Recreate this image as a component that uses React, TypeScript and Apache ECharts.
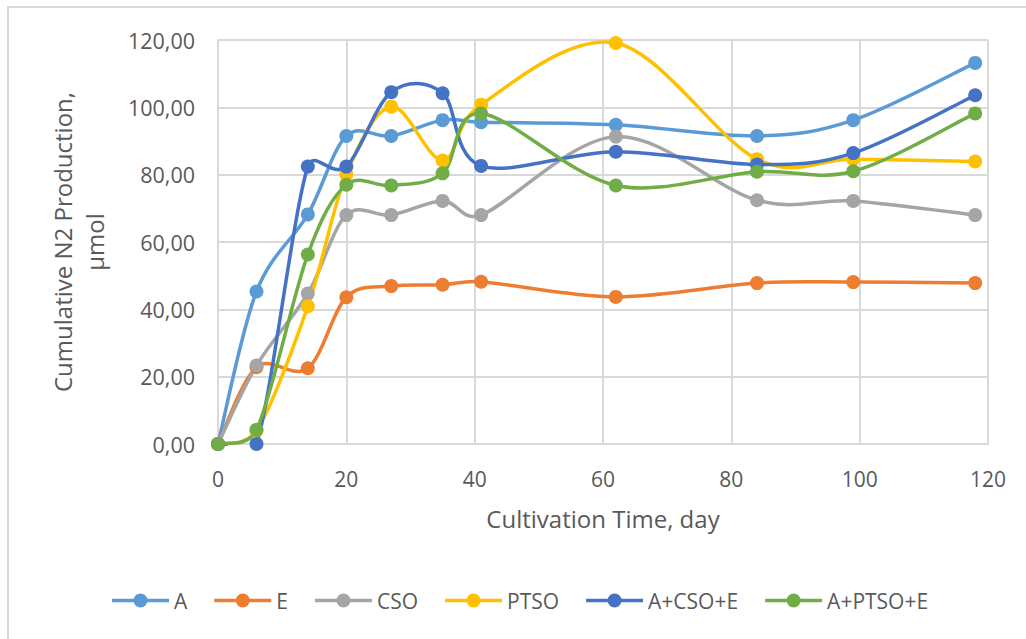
import React, { useEffect, useRef } from "react";
import * as echarts from "echarts";

// Sampling days (x axis)
const days = [0, 6, 14, 20, 27, 35, 41, 62, 84, 99, 118];

// Cumulative N2 production, µmol, per treatment
const seriesA = [0, 45.3, 68.2, 91.5, 91.5, 96.2, 95.6, 94.8, 91.5, 96.2, 113.2];
const seriesE = [0, 22.8, 22.5, 43.6, 46.9, 47.3, 48.2, 43.7, 47.8, 48.1, 47.8];
const seriesCSO = [0, 23.3, 44.7, 68.0, 68.0, 72.2, 68.0, 91.3, 72.4, 72.2, 68.0];
const seriesPTSO = [0, 4.0, 40.9, 80.1, 100.2, 84.2, 100.8, 119.1, 84.6, 84.6, 83.9];
const seriesACSOE = [0, 0, 82.4, 82.4, 104.5, 104.2, 82.6, 86.8, 83.0, 86.4, 103.6];
const seriesAPTSOE = [0, 4.2, 56.3, 77.0, 76.8, 80.4, 98.2, 76.8, 80.9, 81.0, 98.2];

const seriesNames = ["A", "E", "CSO", "PTSO", "A+CSO+E", "A+PTSO+E"];
const seriesValues = [seriesA, seriesE, seriesCSO, seriesPTSO, seriesACSOE, seriesAPTSOE];
const seriesColors = ["#5B9BD5", "#ED7D31", "#A5A5A5", "#FFC000", "#4472C4", "#70AD47"];

const FONT = "'Open Sans', 'Noto Sans', sans-serif";
const TEXT_COLOR = "#595959";
const GRID_COLOR = "#D9D9D9";
const LINE_WIDTH = 3.5;
const MARKER_R = 7;

// Legend glyph: a horizontal stroke with a dot in the middle (57 x 14 box)
const LEGEND_ICON =
  "path://M0,5.25 H57 V8.75 H0 Z M21.5,7 A7,7 0 1,1 35.5,7 A7,7 0 1,1 21.5,7 Z";

const dist = (a: number[], b: number[]) => Math.hypot(b[0] - a[0], b[1] - a[1]);

// Smoothed line through the points in pixel space: cubic Bezier segments whose
// control points follow the neighbour chord (1/6 of it), but never reach further
// than half of the segment itself.
function splinePath(pts: number[][]): string {
  let d = `M${pts[0][0]},${pts[0][1]}`;
  const n = pts.length;
  for (let k = 0; k < n - 1; k++) {
    const p0 = pts[Math.max(k - 1, 0)];
    const p1 = pts[k];
    const p2 = pts[k + 1];
    const p3 = pts[Math.min(k + 2, n - 1)];
    const d12 = dist(p1, p2);
    const d02 = dist(p0, p2);
    const d13 = dist(p1, p3);
    const f0 = d02 > 0 ? Math.min(1 / 6, d12 / 2 / d02) : 0;
    const f1 = d13 > 0 ? Math.min(1 / 6, d12 / 2 / d13) : 0;
    const c1x = p1[0] + (p2[0] - p0[0]) * f0;
    const c1y = p1[1] + (p2[1] - p0[1]) * f0;
    const c2x = p2[0] - (p3[0] - p1[0]) * f1;
    const c2y = p2[1] - (p3[1] - p1[1]) * f1;
    d += ` C${c1x},${c1y} ${c2x},${c2y} ${p2[0]},${p2[1]}`;
  }
  return d;
}

function makeRenderItem(values: number[], color: string) {
  return (params: any, api: any) => {
    const i = params.dataIndex;
    const pts = days.map((d, k) => api.coord([d, values[k]]));
    const [cx, cy] = pts[i];
    const marker = {
      type: "circle",
      shape: { cx, cy, r: MARKER_R },
      style: { fill: color },
      z2: 2,
    };
    if (i !== 0) return marker;
    const cs = params.coordSys;
    return {
      type: "group",
      children: [
        {
          type: "path",
          shape: { pathData: splinePath(pts) },
          style: { stroke: color, lineWidth: LINE_WIDTH, fill: "none", lineJoin: "round" },
          clipPath: {
            type: "rect",
            shape: { x: cs.x - 4, y: cs.y - 4, width: cs.width + 8, height: cs.height + 6 },
          },
          z2: 1,
        },
        marker,
      ],
    };
  };
}

export default function App() {
  const ref = useRef<HTMLDivElement>(null);

  useEffect(() => {
    if (!ref.current) return;
    const chart = echarts.init(ref.current, undefined, { renderer: "svg" });

    const series = seriesNames.map((name, i) => ({
      name,
      type: "custom",
      coordinateSystem: "cartesian2d",
      data: days.map((d, j) => [d, seriesValues[i][j]]),
      encode: { x: 0, y: 1 },
      itemStyle: { color: seriesColors[i] },
      renderItem: makeRenderItem(seriesValues[i], seriesColors[i]),
    }));

    chart.setOption({
      animation: false,
      backgroundColor: "#ffffff",
      color: seriesColors,
      textStyle: { fontFamily: FONT },
      grid: { left: 218, top: 40, width: 770, height: 404, containLabel: false },
      xAxis: {
        type: "value",
        min: 0,
        max: 120,
        interval: 20,
        name: "Cultivation Time, day",
        nameLocation: "middle",
        nameGap: 62,
        nameTextStyle: { fontFamily: FONT, fontSize: 24, color: TEXT_COLOR },
        axisLine: { show: true, lineStyle: { color: GRID_COLOR, width: 2 } },
        axisTick: { show: false },
        axisLabel: { fontFamily: FONT, fontSize: 21, color: TEXT_COLOR, margin: 24 },
        splitLine: { show: true, lineStyle: { color: GRID_COLOR, width: 2 } },
      },
      yAxis: {
        type: "value",
        min: 0,
        max: 120,
        interval: 20,
        name: "Cumulative N2 Production,\nµmol",
        nameLocation: "middle",
        nameGap: 108,
        nameTextStyle: {
          fontFamily: FONT,
          fontSize: 24,
          color: TEXT_COLOR,
          lineHeight: 32,
          align: "center",
        },
        axisLine: { show: true, lineStyle: { color: GRID_COLOR, width: 2 } },
        axisTick: { show: false },
        axisLabel: {
          fontFamily: FONT,
          fontSize: 21.5,
          color: TEXT_COLOR,
          margin: 23,
          formatter: (v: number) => v.toFixed(2).replace(".", ","),
        },
        splitLine: { show: true, lineStyle: { color: GRID_COLOR, width: 2 } },
      },
      legend: {
        data: seriesNames.map((name) => ({ name, icon: LEGEND_ICON })),
        left: 107,
        top: 585,
        itemWidth: 57,
        itemHeight: 14,
        itemGap: 27,
        textStyle: { fontFamily: FONT, fontSize: 21, color: TEXT_COLOR },
      },
      graphic: [
        {
          type: "polyline",
          shape: { points: [[8, 639], [8, 7], [1026, 7]] },
          style: { stroke: GRID_COLOR, lineWidth: 2, fill: "none" },
          silent: true,
        },
      ],
      series,
    });

    return () => chart.dispose();
  }, []);

  return (
    <div
      ref={ref}
      style={{ position: "absolute", left: 0, top: 0, width: 1026, height: 639 }}
    />
  );
}
